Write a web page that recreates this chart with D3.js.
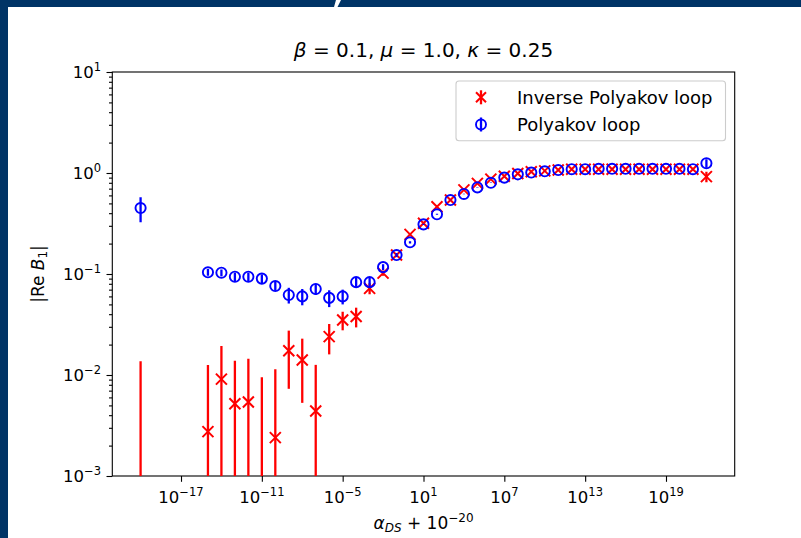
<!DOCTYPE html>
<html><head><meta charset="utf-8">
<script src="https://cdn.jsdelivr.net/npm/d3@7/dist/d3.min.js"></script>
<style>body{margin:0;background:#fff} svg{display:block} text{font-family:"DejaVu Sans",sans-serif;fill:#000}</style>
</head><body><svg id="c" width="801" height="538"></svg>
<script>
// ---- data ----
const alphaValues = [0,1e-15,1e-14,1e-13,1e-12,1e-11,1e-10,1e-9,1e-8,1e-7,1e-6,1e-5,1e-4,1e-3,1e-2,1e-1,1e0,1e1,1e2,1e3,1e4,1e5,1e6,1e7,1e8,1e9,1e10,1e11,1e12,1e13,1e14,1e15,1e16,1e17,1e18,1e19,1e20,1e21,1e22];
const polyVals = [0.45,0.104,0.103,0.094,0.094,0.090,0.076,0.062,0.060,0.071,0.058,0.060,0.083,0.083,0.117,0.154,0.206,0.31,0.39,0.54,0.62,0.72,0.80,0.90,0.97,1.01,1.04,1.07,1.09,1.09,1.10,1.10,1.10,1.10,1.10,1.10,1.10,1.09,1.25];
const polyErr = [0.125,0.008,0.008,0.009,0.009,0.009,0.008,0.011,0.011,0.009,0.011,0.010,0.009,0.009,0.008,0.007,0.005,0.005,0.004,0.004,0.004,0.004,0.004,0.004,0.004,0.003,0.003,0.003,0.003,0.003,0.003,0.003,0.003,0.003,0.003,0.003,0.003,0.003,0.12];
const invVals = [0.0004,0.00275,0.0091,0.0052,0.0054,0.0005,0.0024,0.0174,0.0141,0.0044,0.024,0.035,0.038,0.072,0.102,0.154,0.247,0.318,0.464,0.54,0.68,0.79,0.87,0.93,0.99,1.03,1.05,1.07,1.09,1.09,1.09,1.09,1.09,1.09,1.09,1.09,1.09,1.09,0.92];
const invErr = [0.0133,0.0098,0.0103,0.0086,0.0091,0.009,0.009,0.0101,0.0088,0.0082,0.008,0.0073,0.0084,0.009,0.006,0.005,0.005,0.005,0.005,0.004,0.004,0.004,0.004,0.004,0.004,0.004,0.004,0.004,0.004,0.004,0.004,0.004,0.004,0.004,0.004,0.004,0.004,0.004,0.11];
const xTickExps = [-17,-11,-5,1,7,13,19];
const yTickExps = [-3,-2,-1,0,1];
const seriesNames = ["Inverse Polyakov loop","Polyakov loop"];
const xOffset = 1e-20;

// ---- layout ----
const W=801,H=538, L=112.3, R=734.7, T=72, B=476;
const navy="#003466";
const svg=d3.select("#c");
svg.append("rect").attr("width",W).attr("height",H).attr("fill","#fff");
svg.append("rect").attr("x",0).attr("y",0).attr("width",W).attr("height",7).attr("fill",navy);
svg.append("rect").attr("x",0).attr("y",0).attr("width",8).attr("height",H).attr("fill",navy);
// fragment of the slide heading's descender, peeking below the top bar edge
svg.append("path").attr("d","M336,0 L341,0 L337.5,7 L334,7 Z").attr("fill","#fff");

const xs = alphaValues.map(a=>a+xOffset);
const lo=Math.log10(d3.min(xs)), hi=Math.log10(d3.max(xs)), pad=0.05*(hi-lo);
const x=d3.scaleLog().domain([Math.pow(10,lo-pad),Math.pow(10,hi+pad)]).range([L,R]);
const y=d3.scaleLog().domain([1e-3,1e1]).range([B,T]);

svg.append("defs").append("clipPath").attr("id","plotclip").append("rect").attr("x",L).attr("y",T).attr("width",R-L).attr("height",B-T);

// minor y ticks
const minor=[];
for(let e=-3;e<1;e++) for(let k=2;k<=9;k++) minor.push(k*Math.pow(10,e));
const gy=svg.append("g").attr("transform",`translate(${L},0)`);
gy.call(d3.axisLeft(y).tickValues(minor).tickSize(3.3).tickFormat(()=>"").tickSizeOuter(0));
const gy2=svg.append("g").attr("transform",`translate(${L},0)`);
gy2.call(d3.axisLeft(y).tickValues(yTickExps.map(e=>Math.pow(10,e))).tickSize(5.8).tickFormat(()=>"").tickSizeOuter(0));
const gx=svg.append("g").attr("transform",`translate(0,${B})`);
gx.call(d3.axisBottom(x).tickValues(xTickExps.map(e=>Math.pow(10,e))).tickSize(5.8).tickFormat(()=>"").tickSizeOuter(0));
svg.selectAll(".domain").remove();
svg.selectAll(".tick line").attr("stroke","#000").attr("stroke-width",1.1);

const sup = (e)=> (e<0?"\u2212":"")+Math.abs(e);
// y labels
yTickExps.forEach(e=>{
  const t=svg.append("text").attr("x",101).attr("y",y(Math.pow(10,e))+6).attr("text-anchor","end").attr("font-size",16.5);
  t.append("tspan").text("10");
  t.append("tspan").attr("dy",-7).attr("font-size",11.5).text(sup(e));
});
// x labels
xTickExps.forEach(e=>{
  const t=svg.append("text").attr("x",x(Math.pow(10,e))).attr("y",503).attr("text-anchor","middle").attr("font-size",16.5);
  t.append("tspan").text("10");
  t.append("tspan").attr("dy",-7).attr("font-size",11.5).text(sup(e));
});

// spines
svg.append("rect").attr("x",L).attr("y",T).attr("width",R-L).attr("height",B-T).attr("fill","none").attr("stroke","#000").attr("stroke-width",1.1);

// data
const plot=svg.append("g").attr("clip-path","url(#plotclip)");
const red="#ff0000", blue="#0000ff";
function errY(v,e){return [y(v+e), v-e>0? y(v-e): B+20];}
function drawSeries(vals,errs,color,marker){
  const g=plot.append("g");
  g.selectAll("line.eb").data(xs).join("line").attr("class","eb")
    .attr("x1",d=>x(d)).attr("x2",d=>x(d))
    .attr("y1",(d,i)=>errY(vals[i],errs[i])[0]).attr("y2",(d,i)=>errY(vals[i],errs[i])[1])
    .attr("stroke",color).attr("stroke-width",2.3);
  if(marker==="x"){
    const s=5.5;
    g.selectAll("path.m").data(xs).join("path").attr("class","m")
      .attr("d",(d,i)=>{const cx=x(d),cy=y(vals[i]);return `M${cx-s},${cy-s}L${cx+s},${cy+s}M${cx-s},${cy+s}L${cx+s},${cy-s}`;})
      .attr("stroke",color).attr("stroke-width",2).attr("fill","none");
  } else {
    g.selectAll("circle.m").data(xs).join("circle").attr("class","m")
      .attr("cx",d=>x(d)).attr("cy",(d,i)=>y(vals[i])).attr("r",5.1)
      .attr("stroke",color).attr("stroke-width",1.9).attr("fill","none");
  }
}
drawSeries(invVals,invErr,red,"x");
drawSeries(polyVals,polyErr,blue,"o");

// legend
const lg=svg.append("g");
lg.append("rect").attr("x",456).attr("y",81).attr("width",269.5).attr("height",59.7).attr("rx",3)
  .attr("fill","#fff").attr("fill-opacity",0.8).attr("stroke","#cccccc").attr("stroke-width",1.1);
const rows=[97.3,124.5], mx=481;
lg.append("line").attr("x1",mx).attr("x2",mx).attr("y1",rows[0]-7).attr("y2",rows[0]+7).attr("stroke",red).attr("stroke-width",2.3);
lg.append("path").attr("d",`M${mx-5},${rows[0]-5}L${mx+5},${rows[0]+5}M${mx-5},${rows[0]+5}L${mx+5},${rows[0]-5}`).attr("stroke",red).attr("stroke-width",2).attr("fill","none");
lg.append("line").attr("x1",mx).attr("x2",mx).attr("y1",rows[1]-7).attr("y2",rows[1]+7).attr("stroke",blue).attr("stroke-width",2.3);
lg.append("circle").attr("cx",mx).attr("cy",rows[1]).attr("r",5).attr("stroke",blue).attr("stroke-width",1.9).attr("fill","none");
seriesNames.forEach((n,i)=>{
  lg.append("text").attr("x",517).attr("y",rows[i]+6.5).attr("font-size",18).text(n);
});

// title
const tt=svg.append("text").attr("x",(L+R)/2).attr("y",57).attr("text-anchor","middle").attr("font-size",20);
[["\u03b2",1],[" = 0.1, ",0],["\u03bc",1],[" = 1.0, ",0],["\u03ba",1],[" = 0.25",0]].forEach(([s,it])=>{
  tt.append("tspan").attr("font-style",it?"italic":"normal").text(s);
});
// x label
const xl=svg.append("text").attr("x",(L+R)/2).attr("y",529).attr("text-anchor","middle").attr("font-size",17);
xl.append("tspan").attr("font-style","italic").text("\u03b1");
xl.append("tspan").attr("font-style","italic").attr("font-size",12).attr("dy",3).text("DS");
xl.append("tspan").attr("dy",-3).text(" + 10");
xl.append("tspan").attr("dy",-7).attr("font-size",12).text("\u221220");
// y label
const yl=svg.append("text").attr("transform",`translate(44,${(T+B)/2}) rotate(-90)`).attr("text-anchor","middle").attr("font-size",17);
yl.append("tspan").text("|Re ");
yl.append("tspan").attr("font-style","italic").text("B");
yl.append("tspan").attr("font-size",12).attr("dy",3).text("1");
yl.append("tspan").attr("dy",-3).text("|");
</script></body></html>
